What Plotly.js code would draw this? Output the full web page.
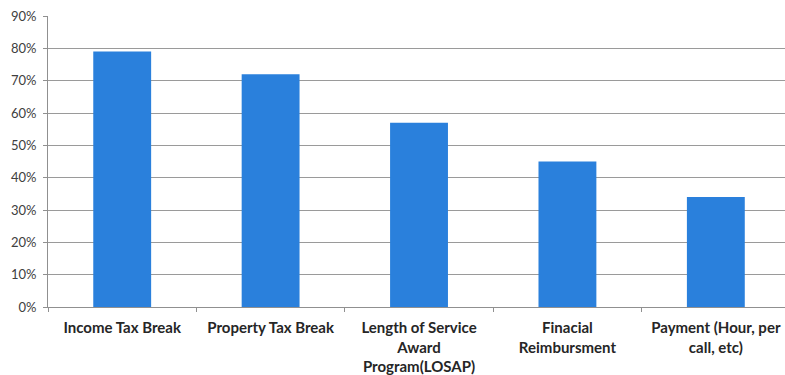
<!DOCTYPE html>
<html>
<head>
<meta charset="utf-8">
<script src="https://cdn.plot.ly/plotly-3.0.1.min.js"></script>
<style>html,body{margin:0;padding:0;background:#fff;}#chart{width:785px;height:375px;}</style>
</head>
<body>
<div id="chart"></div>
<script>
const categories = [
  "Income Tax Break",
  "Property Tax Break",
  "Length of Service<br>Award<br>Program(LOSAP)",
  "Finacial<br>Reimbursment",
  "Payment (Hour, per<br>call, etc)"
];
const values = [0.79, 0.72, 0.57, 0.45, 0.34];
const yTickVals = [0, 0.1, 0.2, 0.3, 0.4, 0.5, 0.6, 0.7, 0.8, 0.9];
const yTickText = ["0%", "10%", "20%", "30%", "40%", "50%", "60%", "70%", "80%", "90%"];

const trace = {
  type: "bar",
  x: categories,
  y: values,
  width: 0.39,
  marker: {color: "#2a80dc", line: {width: 0}},
  hoverinfo: "skip"
};

const layout = {
  width: 785,
  height: 375,
  margin: {l: 48, r: 0, t: 16, b: 68},
  paper_bgcolor: "#ffffff",
  plot_bgcolor: "#ffffff",
  showlegend: false,
  bargap: 0.61,
  xaxis: {
    type: "category",
    range: [-0.5, 4.466],
    tickson: "boundaries",
    ticks: "outside",
    ticklen: 4,
    tickcolor: "#909090",
    showgrid: false,
    showline: true,
    linecolor: "#909090",
    linewidth: 1,
    ticklabelstandoff: 7,
    tickfont: {family: "Lato, 'Open Sans', sans-serif", size: 15, color: "#262626", weight: "bold"}
  },
  yaxis: {
    range: [0, 0.9],
    tickvals: yTickVals,
    ticktext: yTickText,
    ticks: "outside",
    ticklen: 4,
    tickcolor: "#909090",
    showgrid: true,
    gridcolor: "#9a9a9a",
    gridwidth: 1,
    showline: true,
    linecolor: "#909090",
    linewidth: 1,
    zeroline: false,
    ticklabelstandoff: 4,
    tickfont: {family: "Lato, 'Open Sans', sans-serif", size: 13, color: "#404040"}
  }
};

Plotly.newPlot("chart", [trace], layout, {displayModeBar: false, staticPlot: true});
</script>
</body>
</html>
